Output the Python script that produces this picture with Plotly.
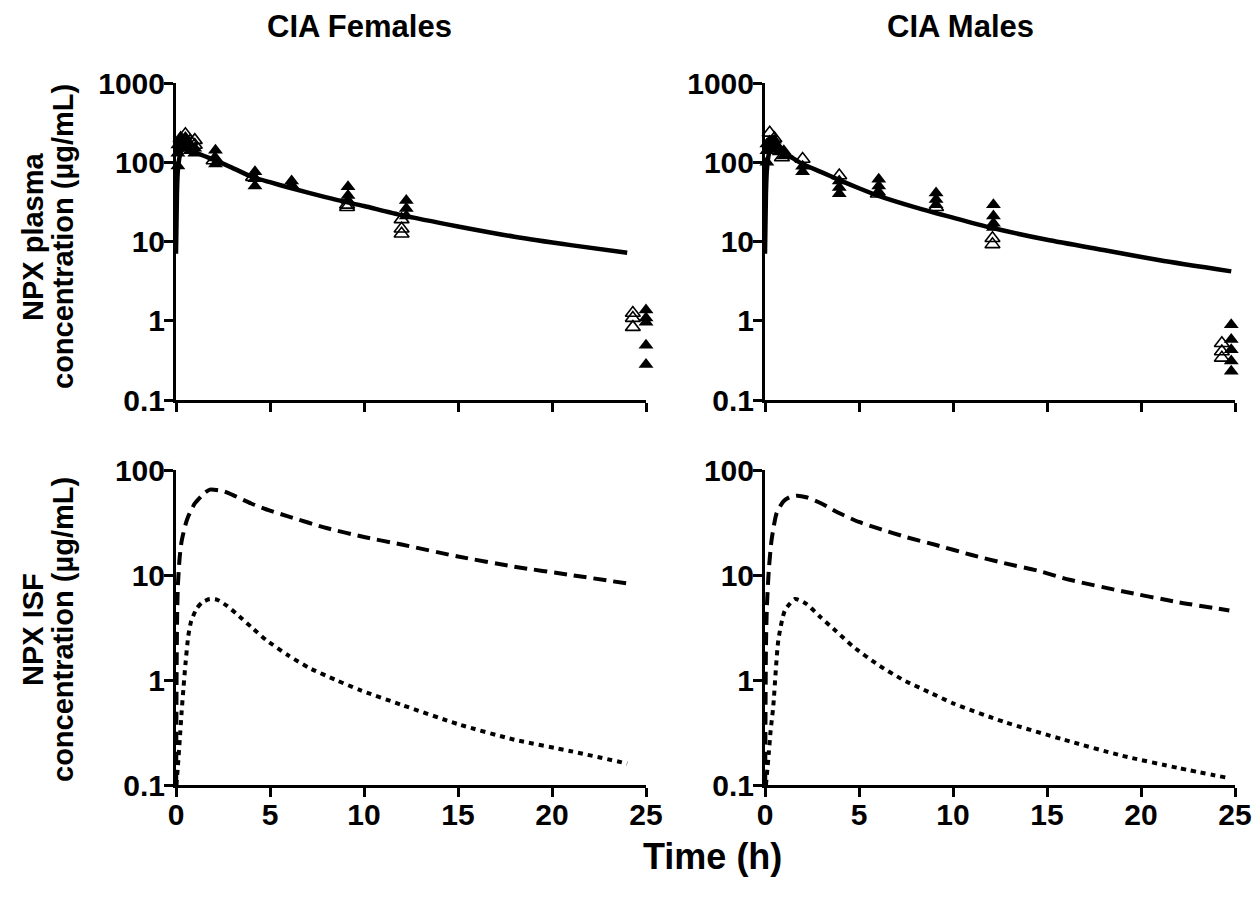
import plotly.graph_objects as go

# ---------------- data ----------------
# model plasma curves
f_curve_t = [0, 0.05, 0.1, 0.2, 0.3, 0.5, 0.75, 1, 1.5, 2, 3, 4, 5, 6, 8, 10, 12, 15, 18, 21, 24]
f_curve_v = [7, 40, 80, 120, 140, 150, 145, 135, 120, 108, 85, 66, 56, 48, 36, 28, 21.5, 15.5, 11.5, 9, 7.2]
m_curve_t = [0, 0.05, 0.1, 0.2, 0.3, 0.5, 0.75, 1, 1.5, 2, 3, 4, 5, 6, 8, 10, 12, 15, 18, 21, 24.8]
m_curve_v = [7, 40, 80, 125, 145, 155, 148, 135, 112, 95, 75, 59, 47, 38, 27, 20, 15, 10.5, 7.8, 5.8, 4.2]

# observed plasma data, females
f_fill_t = [0.1, 0.1, 0.1, 0.25, 0.25, 0.25, 0.5, 0.5, 0.5, 0.75, 0.75, 1.0, 1.0,
            2.1, 2.1, 2.1, 4.2, 4.2, 4.2, 6.15, 6.15, 9.15, 9.15, 9.15, 12.25, 12.25, 12.25,
            25, 25, 25, 25, 25]
f_fill_v = [90, 130, 165, 150, 185, 200, 160, 180, 205, 140, 165, 130, 150,
            142, 113, 95, 76, 62, 50, 58, 52, 49, 38, 33, 33, 26, 21,
            1.37, 1.08, 0.96, 0.49, 0.28]
f_open_t = [0.25, 0.5, 0.75, 1.0, 1.0, 2.0, 4.1, 9.1, 9.1, 12.0, 12.0, 12.0, 24.3, 24.3, 24.3]
f_open_v = [200, 225, 185, 190, 165, 105, 65, 29, 27, 19, 14.5, 12.5, 1.25, 1.08, 0.83]

# observed plasma data, males
m_fill_t = [0.1, 0.1, 0.1, 0.25, 0.25, 0.5, 0.5, 0.5, 0.75, 0.75, 1.0, 1.0,
            2.0, 2.0, 3.95, 3.95, 3.95, 6.05, 6.05, 6.05, 9.1, 9.1, 9.1,
            12.15, 12.15, 12.15, 12.15, 24.8, 24.8, 24.8, 24.8, 24.8]
m_fill_v = [100, 140, 170, 150, 185, 145, 170, 190, 135, 150, 120, 140,
            89, 76, 58, 48, 40, 61, 50, 42, 41, 34, 29,
            29, 21, 17, 15, 0.89, 0.58, 0.43, 0.31, 0.23]
m_open_t = [0.25, 0.5, 0.9, 2.0, 3.95, 6.0, 9.1, 12.1, 12.1, 24.3, 24.3, 24.3]
m_open_v = [235, 200, 115, 110, 68, 40, 27, 11, 9.2, 0.52, 0.41, 0.34]

# ISF curves
f_dash_t = [0.01, 0.03, 0.06, 0.1, 0.2, 0.3, 0.5, 0.65, 1.0, 1.5, 1.8, 2.5, 3, 4, 5, 6, 8, 10, 12, 15, 18, 21, 24]
f_dash_v = [0.1, 1, 4, 8, 15, 21, 30, 36, 48, 60, 65, 63, 58, 48, 41, 36, 28, 23, 19.5, 15, 12, 10, 8.3]
f_dot_t = [0.02, 0.1, 0.2, 0.3, 0.4, 0.5, 0.65, 0.8, 1.1, 1.4, 1.8, 2.2, 2.7, 3.2, 4, 4.8, 6, 7.1, 8.5, 9.8, 12, 15, 18, 21, 24]
f_dot_v = [0.1, 0.15, 0.27, 0.5, 0.85, 1.4, 2.6, 3.6, 4.8, 5.5, 5.9, 5.8, 5.1, 4.3, 3.2, 2.4, 1.7, 1.3, 1.0, 0.80, 0.58, 0.38, 0.27, 0.21, 0.16]
m_dash_t = [0.01, 0.05, 0.1, 0.2, 0.35, 0.62, 0.97, 1.3, 1.7, 2.2, 3, 3.8, 5, 6.1, 7.5, 9.1, 11, 12.7, 14.5, 16.2, 19, 22, 24.7]
m_dash_v = [0.1, 2, 5, 11, 21.5, 39, 50, 55, 57, 55, 48, 40, 32, 27.5, 23, 19.3, 15.5, 13, 11, 9, 7, 5.5, 4.6]
m_dot_t = [0.05, 0.2, 0.3, 0.44, 0.71, 1.06, 1.6, 2.2, 2.93, 3.8, 4.7, 6, 7.36, 8.7, 10, 12.7, 15.9, 19, 22, 24.6]
m_dot_v = [0.1, 0.2, 0.33, 0.56, 2.4, 4.6, 5.9, 5.3, 4.0, 2.9, 2.07, 1.4, 1.0, 0.77, 0.60, 0.40, 0.27, 0.19, 0.145, 0.117]

x_ticks = [0, 5, 10, 15, 20, 25]
y_ticks_top = [0.1, 1, 10, 100, 1000]
y_ticks_bot = [0.1, 1, 10, 100]
y_tick_text_top = ["0.1", "1", "10", "100", "1000"]
y_tick_text_bot = ["0.1", "1", "10", "100"]

panel_titles = ["CIA Females", "CIA Males"]
x_title = "Time (h)"
y_title_top = ["NPX plasma", "concentration (µg/mL)"]
y_title_bot = ["NPX ISF", "concentration (µg/mL)"]

# ---------------- figure ----------------
W, H = 1260, 908
FONT = "Liberation Sans"
fig = go.Figure()

def add_line(x, y, xa, ya, dash="solid", width=4.5):
    fig.add_trace(go.Scatter(x=x, y=y, mode="lines", xaxis=xa, yaxis=ya,
                             line=dict(color="black", width=width, dash=dash,
                                       shape="spline", smoothing=0.6),
                             showlegend=False, hoverinfo="skip"))

def add_pts(x, y, xa, ya, filled=True):
    if filled:
        mk = dict(symbol="triangle-up", size=13, color="black", line=dict(width=0))
    else:
        mk = dict(symbol="triangle-up-open", size=13, color="black", line=dict(width=1.6, color="black"))
    fig.add_trace(go.Scatter(x=x, y=y, mode="markers", xaxis=xa, yaxis=ya, marker=mk,
                             showlegend=False, hoverinfo="skip", cliponaxis=False))

# top-left
add_line(f_curve_t, f_curve_v, "x", "y")
add_pts(f_open_t, f_open_v, "x", "y", filled=False)
add_pts(f_fill_t, f_fill_v, "x", "y", filled=True)
# top-right
add_line(m_curve_t, m_curve_v, "x2", "y2")
add_pts(m_open_t, m_open_v, "x2", "y2", filled=False)
add_pts(m_fill_t, m_fill_v, "x2", "y2", filled=True)
# bottom-left
add_line(f_dash_t, f_dash_v, "x3", "y3", dash="13px,7px", width=4)
add_line(f_dot_t, f_dot_v, "x3", "y3", dash="5px,5px", width=4)
# bottom-right
add_line(m_dash_t, m_dash_v, "x4", "y4", dash="13px,7px", width=4)
add_line(m_dot_t, m_dot_v, "x4", "y4", dash="5px,5px", width=4)

def px_x(p):
    return p / W

def px_y(p):
    return 1 - p / H

xdom_l = [px_x(176), px_x(646)]
xdom_r = [px_x(765), px_x(1235)]
ydom_t = [px_y(400), px_y(83)]
ydom_b = [px_y(785), px_y(470)]

tickfont = dict(family=FONT, size=30, color="black", weight="bold")

def xaxis(dom, anchor, labels):
    return dict(domain=dom, anchor=anchor, range=[0, 25], tickvals=x_ticks,
                showticklabels=labels, ticks="outside", ticklen=9, tickwidth=3,
                tickcolor="black", showline=True, linewidth=3, linecolor="black",
                showgrid=False, zeroline=False, tickfont=tickfont, automargin=False,
                ticklabelstandoff=-8)

def yaxis(dom, anchor, rng, vals, text):
    return dict(domain=dom, anchor=anchor, type="log", range=rng, tickvals=vals, ticktext=text,
                ticks="outside", ticklen=9, tickwidth=3, tickcolor="black",
                showline=True, linewidth=3, linecolor="black", showgrid=False,
                zeroline=False, tickfont=tickfont, automargin=False,
                ticklabelstandoff=-7)

fig.update_layout(
    width=W, height=H, margin=dict(l=0, r=0, t=0, b=0),
    paper_bgcolor="white", plot_bgcolor="white", showlegend=False,
    xaxis=xaxis(xdom_l, "y", False),
    yaxis=yaxis(ydom_t, "x", [-1, 3], y_ticks_top, y_tick_text_top),
    xaxis2=xaxis(xdom_r, "y2", False),
    yaxis2=yaxis(ydom_t, "x2", [-1, 3], y_ticks_top, y_tick_text_top),
    xaxis3=xaxis(xdom_l, "y3", True),
    yaxis3=yaxis(ydom_b, "x3", [-1, 2], y_ticks_bot, y_tick_text_bot),
    xaxis4=xaxis(xdom_r, "y4", True),
    yaxis4=yaxis(ydom_b, "x4", [-1, 2], y_ticks_bot, y_tick_text_bot),
)

ann = []
tfont = dict(family=FONT, size=31, color="black", weight="bold")
ann.append(dict(text=panel_titles[0], x=px_x(359), y=px_y(27), xref="paper", yref="paper",
                xanchor="center", yanchor="middle", showarrow=False, font=tfont))
ann.append(dict(text=panel_titles[1], x=px_x(960), y=px_y(27), xref="paper", yref="paper",
                xanchor="center", yanchor="middle", showarrow=False, font=tfont))
ann.append(dict(text=x_title, x=px_x(712), y=px_y(856), xref="paper", yref="paper",
                xanchor="center", yanchor="middle", showarrow=False,
                font=dict(family=FONT, size=36, color="black", weight="bold")))
yfont = dict(family=FONT, size=29, color="black", weight="bold")
for (lines, cy) in [(y_title_top, 237), (y_title_bot, 630)]:
    ann.append(dict(text=lines[0], x=px_x(33), y=px_y(cy), xref="paper", yref="paper",
                    xanchor="center", yanchor="middle", textangle=-90, showarrow=False, font=yfont))
    ann.append(dict(text=lines[1], x=px_x(63), y=px_y(cy), xref="paper", yref="paper",
                    xanchor="center", yanchor="middle", textangle=-90, showarrow=False, font=yfont))
fig.update_layout(annotations=ann)

fig.write_html("out.html", config={"displayModeBar": False},
               post_script="document.body.style.margin='0';document.body.style.padding='0';")
